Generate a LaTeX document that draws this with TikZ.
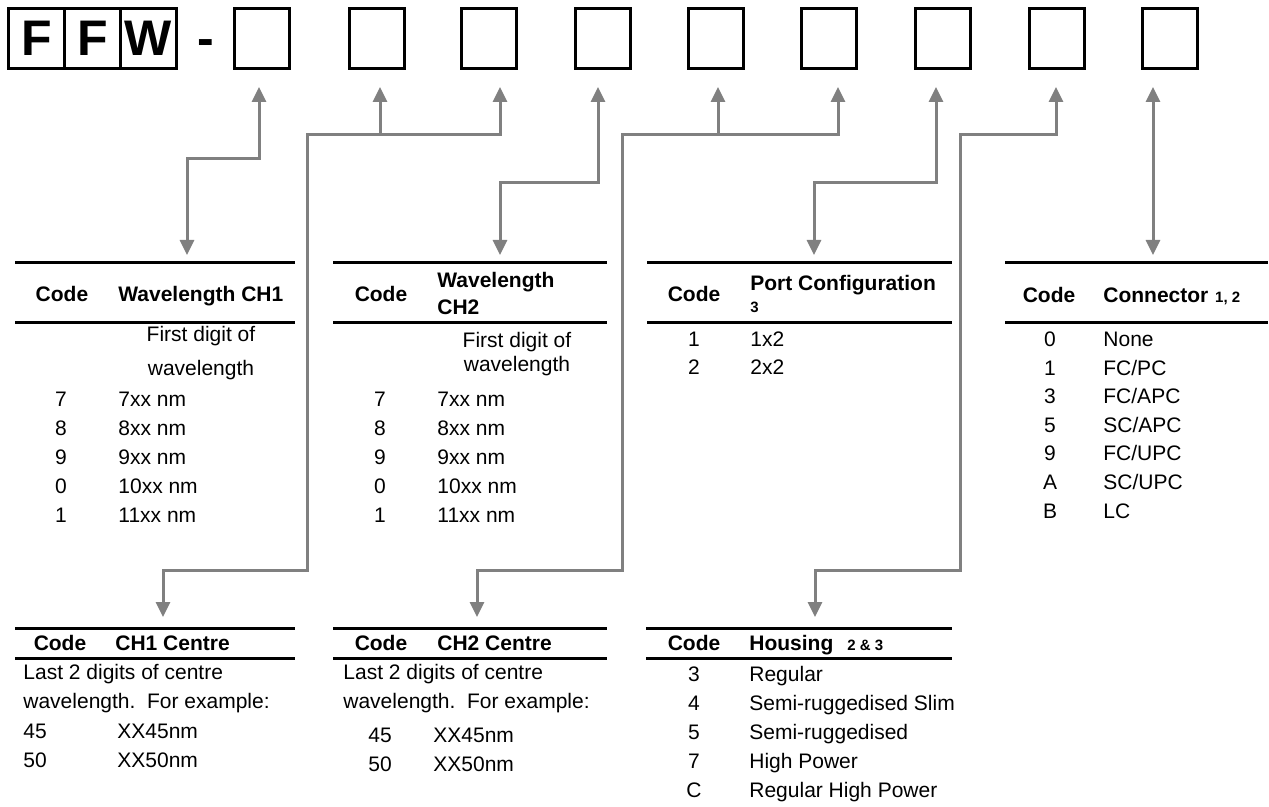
\documentclass[tikz,border=0pt]{standalone}
\usepackage{fontspec}
\setmainfont{Liberation Sans}
\usetikzlibrary{arrows.meta}

\begin{document}
\begin{tikzpicture}[
    x=0.5pt, y=-0.5pt,
    font=\fontsize{10.5}{12}\selectfont,
    letter/.style={draw, line width=1.5pt, minimum width=28pt, minimum height=30pt, inner sep=0pt, font=\fontsize{25}{27}\selectfont\bfseries},
    slot/.style={draw, line width=1.5pt, minimum width=27.5pt, minimum height=30pt, inner sep=0pt},
    hdrule/.style={line width=1.5pt},
    link/.style={draw=gray, line width=1.5pt},
    arr/.style={link, -{Triangle[length=7.5pt, width=7pt]}},
    biarr/.style={link, {Triangle[length=7.5pt, width=7pt]}-{Triangle[length=7.5pt, width=7pt]}},
    hd/.style={font=\fontsize{10.5}{12}\selectfont\bfseries, anchor=base, inner sep=0pt},
    hdl/.style={hd, anchor=base west},
    cell/.style={anchor=base west, inner sep=0pt},
    codec/.style={anchor=base, inner sep=0pt},
    small/.style={font=\fontsize{7.5}{9}\selectfont\bfseries, anchor=base west, inner sep=0pt}
]
\useasboundingbox (0,0) rectangle (1269,807);

\node[letter] (f1) at (36.5,38.5) {F};
\node[letter] (f2) at (92.5,38.5) {F};
\node[letter] (f3) at (148.5,38.5) {W};
\node[font=\fontsize{25}{27}\selectfont\bfseries, anchor=base, inner sep=0pt] (dash) at (206,56) {-};

\node[slot] (b1) at (262,38.5) {};
\node[slot] (b2) at (377,38.5) {};
\node[slot] (b3) at (489,38.5) {};
\node[slot] (b4) at (603,38.5) {};
\node[slot] (b5) at (716,38.5) {};
\node[slot] (b6) at (829,38.5) {};
\node[slot] (b7) at (943,38.5) {};
\node[slot] (b8) at (1057,38.5) {};
\node[slot] (b9) at (1170,38.5) {};

\coordinate (p1) at (259,87);
\coordinate (p2) at (380,87);
\coordinate (p3) at (500,87);
\coordinate (p4) at (598,87);
\coordinate (p5) at (718,87);
\coordinate (p6) at (838,87);
\coordinate (p7) at (936,87);
\coordinate (p8) at (1056,87);
\coordinate (p9) at (1153,87);

\coordinate (q1) at (187,255);
\coordinate (q2) at (500,255);
\coordinate (q3) at (814,255);
\coordinate (q4) at (1153,255);
\coordinate (s1) at (163,617);
\coordinate (s2) at (477,617);
\coordinate (s3) at (815,617);
\coordinate (jB) at (307,135);
\coordinate (jD) at (622,135);
\coordinate (jF) at (960,135);

\draw[biarr] (p1) -- ++(0,72) -| (q1);
\draw[biarr] (p3) |- (jB) -- ++(0,435) -| (s1);
\draw[arr] (p2 |- jB) -- (p2);
\draw[biarr] (p4) -- ++(0,96) -| (q2);
\draw[biarr] (p6) |- (jD) -- ++(0,435) -| (s2);
\draw[arr] (p5 |- jD) -- (p5);
\draw[biarr] (p7) -- ++(0,96) -| (q3);
\draw[biarr] (p8) |- (jF) -- ++(0,435) -| (s3);
\draw[biarr] (p9) -- (q4);

\draw[hdrule] (15,263) -- (295,263) (15,323) -- (295,323);
\draw[hdrule] (333,263) -- (607,263) (333,323) -- (607,323);
\draw[hdrule] (647,263) -- (952,263) (647,323) -- (952,323);
\draw[hdrule] (1005,263) -- (1268,263) (1005,323) -- (1268,323);
\draw[hdrule] (15,628) -- (295,628) (15,658) -- (295,658);
\draw[hdrule] (333,628) -- (607,628) (333,658) -- (607,658);
\draw[hdrule] (646,628) -- (952,628) (646,658) -- (952,658);

\node[hd] (waC) at (62,302) {Code};
\node[hdl] (waH) at (118,302) {Wavelength CH1};
\node[codec] (waN) at (201,342) {First digit of};
\node[codec] (waM) at (201,376) {wavelength};
\node[codec] (wa1c) at (61,407) {7};
\node[cell] (wa1v) at (118,407) {7xx nm};
\node[codec] (wa2c) at (61,436) {8};
\node[cell] (wa2v) at (118,436) {8xx nm};
\node[codec] (wa3c) at (61,465) {9};
\node[cell] (wa3v) at (118,465) {9xx nm};
\node[codec] (wa4c) at (61,494) {0};
\node[cell] (wa4v) at (118,494) {10xx nm};
\node[codec] (wa5c) at (61,523) {1};
\node[cell] (wa5v) at (118,523) {11xx nm};

\node[hd] (wbC) at (381,302) {Code};
\node[hdl] (wbH) at (437,288) {Wavelength};
\node[hdl] (wbG) at (437,315) {CH2};
\node[codec] (wbN) at (517,348) {First digit of};
\node[codec] (wbM) at (517,372) {wavelength};
\node[codec] (wb1c) at (380,407) {7};
\node[cell] (wb1v) at (437,407) {7xx nm};
\node[codec] (wb2c) at (380,436) {8};
\node[cell] (wb2v) at (437,436) {8xx nm};
\node[codec] (wb3c) at (380,465) {9};
\node[cell] (wb3v) at (437,465) {9xx nm};
\node[codec] (wb4c) at (380,494) {0};
\node[cell] (wb4v) at (437,494) {10xx nm};
\node[codec] (wb5c) at (380,523) {1};
\node[cell] (wb5v) at (437,523) {11xx nm};

\node[hd] (pcC) at (694,302) {Code};
\node[hdl] (pcH) at (750,291) {Port Configuration};
\node[small] (pcS) at (750,313) {3};
\node[codec] (pc1c) at (694,347) {1};
\node[cell] (pc1v) at (750,347) {1x2};
\node[codec] (pc2c) at (694,375) {2};
\node[cell] (pc2v) at (750,375) {2x2};

\node[hd] (cnC) at (1049,303) {Code};
\node[hdl] (cnH) at (1103,303) {Connector};
\node[small, xshift=3pt] (cnS) at (cnH.base east) {1, 2};
\node[codec] (cn1c) at (1050,347) {0};
\node[cell] (cn1v) at (1103,347) {None};
\node[codec] (cn2c) at (1050,375.5) {1};
\node[cell] (cn2v) at (1103,375.5) {FC/PC};
\node[codec] (cn3c) at (1050,404) {3};
\node[cell] (cn3v) at (1103,404) {FC/APC};
\node[codec] (cn4c) at (1050,432.5) {5};
\node[cell] (cn4v) at (1103,432.5) {SC/APC};
\node[codec] (cn5c) at (1050,461) {9};
\node[cell] (cn5v) at (1103,461) {FC/UPC};
\node[codec] (cn6c) at (1050,489.5) {A};
\node[cell] (cn6v) at (1103,489.5) {SC/UPC};
\node[codec] (cn7c) at (1050,518) {B};
\node[cell] (cn7v) at (1103,518) {LC};

\node[hd] (caC) at (60,650) {Code};
\node[hdl] (caH) at (115,650) {CH1 Centre};
\node[cell] (caN) at (23,679) {Last 2 digits of centre};
\node[cell] (caM) at (23,708) {wavelength.\ \ For example:};
\node[cell] (ca1c) at (23,738) {45};
\node[cell] (ca1v) at (117,738) {XX45nm};
\node[cell] (ca2c) at (23,767) {50};
\node[cell] (ca2v) at (117,767) {XX50nm};

\node[hd] (cbC) at (381,650) {Code};
\node[hdl] (cbH) at (437,650) {CH2 Centre};
\node[cell] (cbN) at (343,679) {Last 2 digits of centre};
\node[cell] (cbM) at (343,708) {wavelength.\ \ For example:};
\node[codec] (cb1c) at (380,742) {45};
\node[cell] (cb1v) at (433,742) {XX45nm};
\node[codec] (cb2c) at (380,771) {50};
\node[cell] (cb2v) at (433,771) {XX50nm};

\node[hd] (hsC) at (694,650) {Code};
\node[hdl] (hsH) at (749,650) {Housing};
\node[small] (hsS) at (847,650) {2 \& 3};
\node[codec] (hs1c) at (694,681) {3};
\node[cell] (hs1v) at (749,681) {Regular};
\node[codec] (hs2c) at (694,710) {4};
\node[cell] (hs2v) at (749,710) {Semi-ruggedised Slim};
\node[codec] (hs3c) at (694,739) {5};
\node[cell] (hs3v) at (749,739) {Semi-ruggedised};
\node[codec] (hs4c) at (694,768) {7};
\node[cell] (hs4v) at (749,768) {High Power};
\node[codec] (hs5c) at (694,797) {C};
\node[cell] (hs5v) at (749,797) {Regular High Power};
\end{tikzpicture}
\end{document}
